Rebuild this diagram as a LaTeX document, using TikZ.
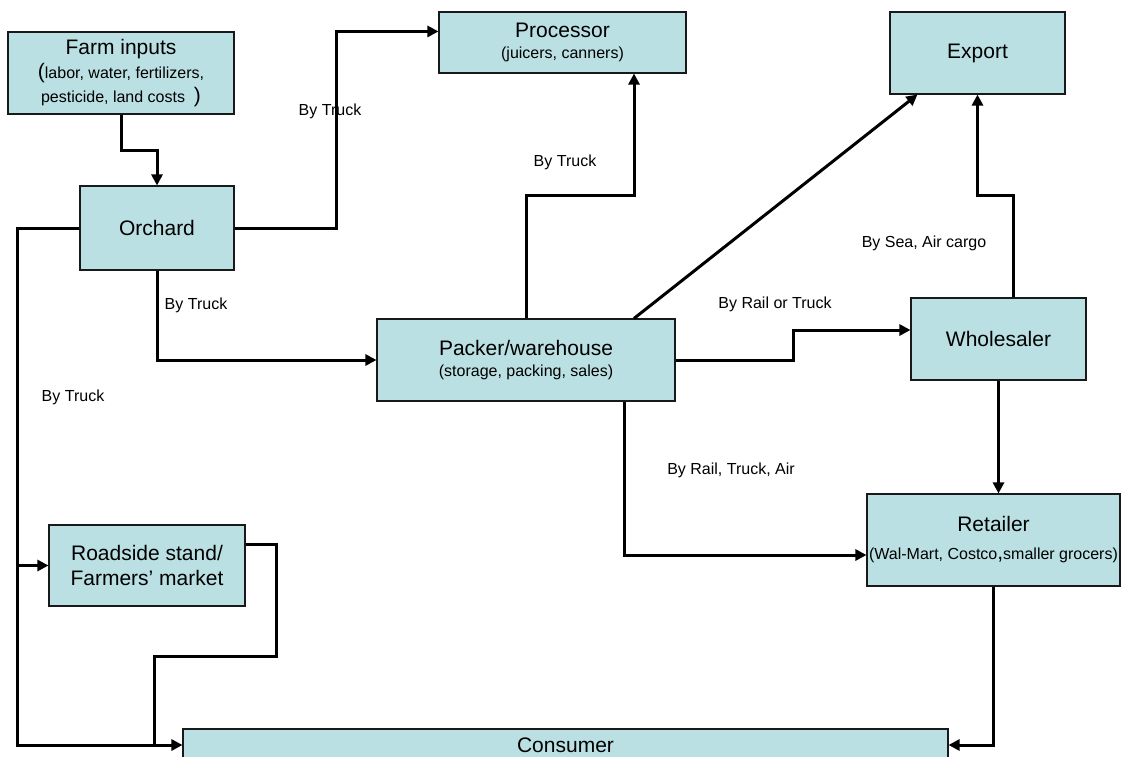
\documentclass[tikz,border=0pt]{standalone}
\usepackage{fontspec}
\setmainfont{Liberation Sans}
\usetikzlibrary{arrows.meta,calc}
\definecolor{boxfill}{RGB}{186,224,227}
\definecolor{ink}{RGB}{25,25,25}
\newcommand\TitleFont{\fontsize{21}{25}\selectfont}
\begin{document}
\begin{tikzpicture}[x=1pt,y=-1pt,
 box/.style={draw=ink, line width=1.1pt, fill=boxfill, inner sep=0pt, align=center, text=black},
 conn/.style={draw=black, line width=3pt, -{Triangle[length=11pt,width=11pt]}},
 wire/.style={draw=black, line width=3pt},
 lbl/.style={font=\fontsize{16}{19}\selectfont, inner sep=0pt}]
\clip (0,0) rectangle (1129,757);
\fill[white] (0,0) rectangle (1129,757);
% boxes
\node[box, minimum width=226pt, minimum height=82pt, font=\fontsize{16}{24}\selectfont] (farm) at (121,73)
 {{\TitleFont Farm inputs}\\{\fontsize{21}{24}\selectfont(}labor, water, fertilizers,\\ pesticide, land costs\ \ {\fontsize{21}{24}\selectfont)}};
\node[box, minimum width=154pt, minimum height=84pt, font=\TitleFont] (orchard) at (157,228) {Orchard};
\node[box, minimum width=247pt, minimum height=61pt, font=\fontsize{16}{21}\selectfont] (processor) at (562.5,42.5)
 {{\TitleFont Processor}\\(juicers, canners)};
\node[box, minimum width=175pt, minimum height=82pt, font=\TitleFont] (export) at (977.5,53) {Export};
\node[box, minimum width=175pt, minimum height=82pt, font=\TitleFont] (wholesaler) at (998.5,339) {Wholesaler};
\node[box, minimum width=298pt, minimum height=82pt, font=\fontsize{16}{21}\selectfont] (packer) at (526,360)
 {{\TitleFont Packer/warehouse}\\(storage, packing, sales)};
\node[box, minimum width=253pt, minimum height=92pt, font=\fontsize{16}{28}\selectfont] (retailer) at (993.5,540)
 {{\TitleFont Retailer}\\(Wal-Mart, Costco{\fontsize{21}{24}\selectfont,}smaller grocers)};
\node[box, minimum width=196pt, minimum height=81pt, font=\fontsize{21}{25}\selectfont] (roadside) at (147,565.5)
 {Roadside stand/\\ Farmers' market};
\node[box, minimum width=765pt, minimum height=32pt, font=\TitleFont] (consumer) at (565.5,745) {Consumer};
% connectors
\draw[conn] (farm.south) -- ++(0,36) -| (orchard.north);
\draw[conn] (orchard.east) -- (336,228) |- ([yshift=-20pt]processor.north west);
\draw[conn] (orchard.south) |- (packer.west);
\draw[conn] (orchard.west) -- ++(-62,0) |- (consumer.west);
\coordinate (bus) at (18,565.5);
\draw[conn] (bus) -- (roadside.west);
\draw[wire] ([yshift=-20pt]roadside.north east) -- ++(31,0) -- ++(0,112) -- ++(-122,0) -- ++(0,88);
\draw[conn] (packer.north) -- ++(0,-123) -| ([xshift=71.5pt]processor.south);
\draw[conn] ([xshift=108pt]packer.north) -- ([xshift=28pt]export.south west);
\draw[conn] (packer.east) -- (793,360) |- ([yshift=9pt]wholesaler.west);
\draw[conn] ([xshift=98pt]packer.south) |- ([yshift=-15pt]retailer.west);
\draw[conn] ([xshift=14.5pt]wholesaler.north) -- ++(0,-102) -| (export.south);
\draw[conn] (wholesaler.south) -- (wholesaler.south |- retailer.north);
\draw[conn] (retailer.south) |- (consumer.east);
% labels
\node[lbl] (l1) at (330,111) {By Truck};
\node[lbl] (l2) at (196,305) {By Truck};
\node[lbl] (l3) at (73,397) {By Truck};
\node[lbl] (l4) at (565,162) {By Truck};
\node[lbl] (l5) at (775,304) {By Rail or Truck};
\node[lbl] (l6) at (731,470) {By Rail, Truck, Air};
\node[lbl] (l7) at (924,243) {By Sea, Air cargo};
\end{tikzpicture}
\end{document}
